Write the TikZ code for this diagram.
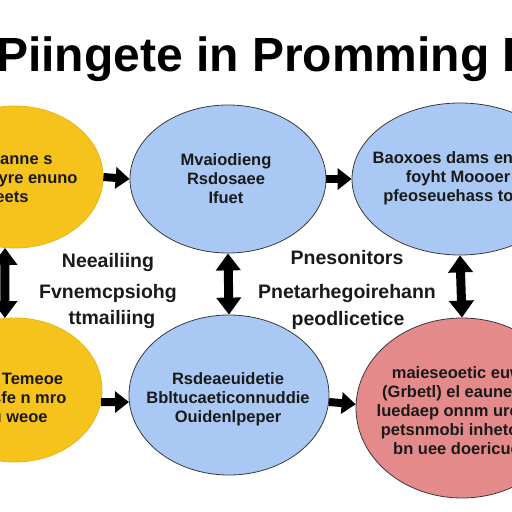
\documentclass[tikz,border=0pt]{standalone}
\usepackage{fontspec}
\setmainfont{Liberation Sans}
\usetikzlibrary{shapes.geometric,arrows.meta}
\definecolor{ylw}{HTML}{F6C21C}
\definecolor{ylwd}{HTML}{E9B510}
\definecolor{blu}{HTML}{A9C9F4}
\definecolor{rdd}{HTML}{E58A8B}
\definecolor{edge}{HTML}{3A3A3A}
\definecolor{ink}{HTML}{1A1A1A}
\begin{document}
\begin{tikzpicture}[x=1pt,y=-1pt,
  blob/.style={ellipse, inner sep=0pt, line width=0.8pt},
  ybl/.style={blob, fill=ylw, draw=ylwd},
  bbl/.style={blob, fill=blu, draw=edge},
  rbl/.style={blob, fill=rdd, draw=edge},
  intxt/.style={align=center, inner sep=0pt, text=ink, font=\fontsize{16.5}{19}\selectfont\bfseries},
  midtxt/.style={align=center, inner sep=0pt, text=ink, font=\fontsize{19.5}{21}\selectfont\bfseries},
  harr/.style={draw=black, line width=8pt, -{Triangle[width=21pt,length=14pt]}},
  varr/.style={draw=black, line width=9pt, {Triangle[width=24pt,length=17pt]}-{Triangle[width=24pt,length=17pt]}}]
\useasboundingbox (0,0) rectangle (512,512);
\clip (0,0) rectangle (512,512);
\fill[white] (0,0) rectangle (512,512);

\node[anchor=base west, inner sep=0pt, text=black, font=\fontsize{48}{50}\selectfont\bfseries] (title) at (-4,71) {Piingete in Promming I};

% ellipses
\node[ybl, minimum width=176pt, minimum height=142pt] (Y1) at (15,177) {};
\node[bbl, minimum width=196pt, minimum height=148pt] (B1) at (228,179) {};
\node[bbl, minimum width=216pt, minimum height=152pt] (B2) at (460,179) {};
\node[ybl, minimum width=174pt, minimum height=144pt] (Y2) at (15,390) {};
\node[bbl, minimum width=200pt, minimum height=160pt] (B3) at (229,395) {};
\node[rbl, minimum width=212pt, minimum height=180pt] (R) at (462,408) {};

% texts inside ellipses
\node[intxt] (tY1) at (12,178) {Waianne s\\Srsfopyre enuno\\eets};
\node[intxt] (tB1) at (226,179) {Mvaiodieng\\Rsdosaee\\Ifuet};
\node[intxt] (tB2) at (458,178) {Baoxoes dams ennuo\\foyht Moooer\\pfeoseuehass toep};
\node[intxt] (tY2) at (10,398) {Irone Temeoe\\enahsfe n mro\\oau weoe};
\node[intxt] (tB3) at (228,399) {Rsdeaeuidetie\\Bbltucaeticonnuddie\\Ouidenlpeper};
\node[intxt] (tR) at (462,411) {maieseoetic euwe\\(Grbetl) el eauneune\\luedaep onnm ureuca\\petsnmobi inhetouin\\bn uee doericuoo};

% middle labels
\node[midtxt] (m1) at (108,262) {Neeailiing};
\node[midtxt] (m2) at (108,293) {Fvnemcpsiohg};
\node[midtxt] (m3) at (112,319) {ttmailiing};
\node[midtxt] (m4) at (347,258) {Pnesonitors};
\node[midtxt] (m5) at (347,293) {Pnetarhegoirehann};
\node[midtxt] (m6) at (348,320) {peodlicetice};

% connectors
\draw[harr] (Y1.east) -- (B1.west);
\draw[harr] (B1.east) -- (B2.west);
\draw[harr] (Y2.-8) -- (B3.184);
\draw[harr] (B3.-4) -- (R.178);
\draw[varr] (B1.south) -- (B3.north);
\draw[varr] (B2.south) -- (R.north);
\draw[varr] (Y1.262) -- (Y2.98);
\end{tikzpicture}
\end{document}
